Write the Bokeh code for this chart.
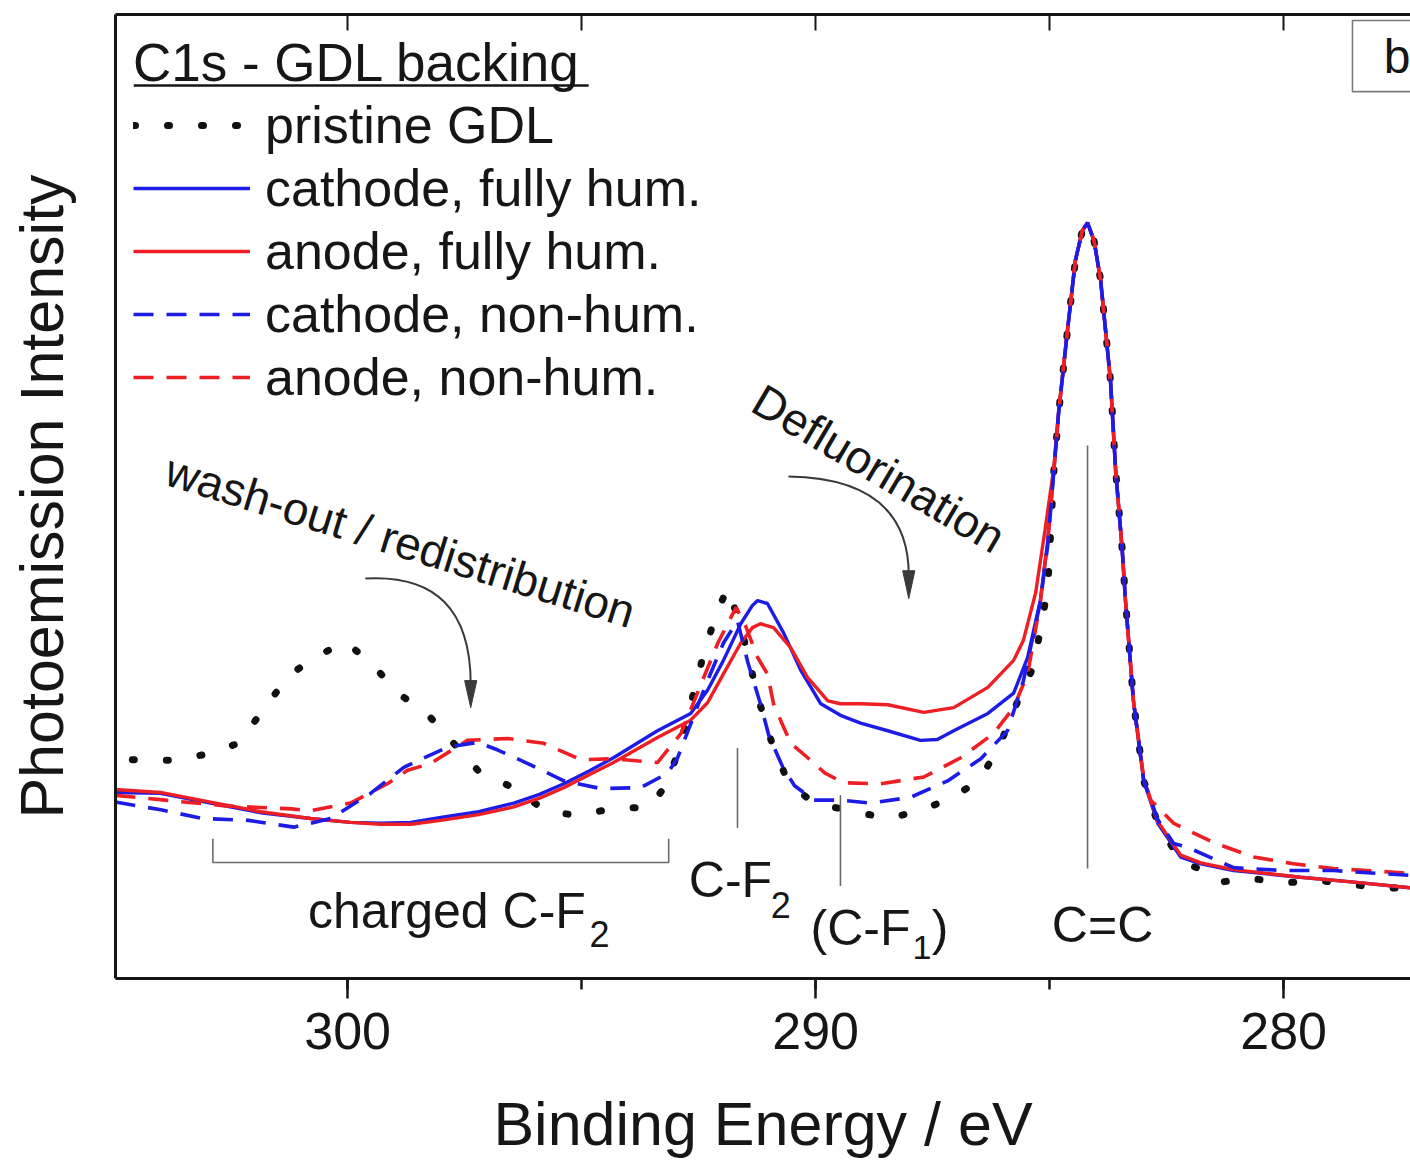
from bokeh.plotting import figure
from bokeh.models import (Range1d, LinearAxis, SingleIntervalTicker, FixedTicker,
                          Legend, LegendItem, Label)
from bokeh.embed import file_html
from bokeh.resources import INLINE

FONT = "Liberation Sans"
BLUE = "#1c1ce6"
RED = "#ee1f24"
INK = "#161616"

# ---- C1s spectra of the GDL backing: binding energy (eV) / intensity (arb. units) ----
pristine_be = [304.6, 304.0, 303.63, 302.99, 302.33, 301.77, 301.26, 300.68, 300.04, 299.47,
               298.95, 298.29, 297.20, 296.47, 295.77, 295.09, 294.27, 293.57, 293.2, 292.9,
               292.61, 292.39, 292.12, 291.88, 291.6, 291.39, 291.18, 290.92, 290.58, 290.04,
               289.25, 288.46, 287.76, 287.07, 286.52, 286.09, 285.77, 285.36, 285.19, 285.04,
               284.91, 284.81, 284.62, 284.45, 284.3, 284.19, 284.05, 283.91, 283.70, 283.59,
               283.45, 283.38, 283.21, 282.99, 282.69, 282.2, 281.77, 281.35, 280.71, 280.0,
               279.32, 278.6, 277.97, 277.29]
pristine_int = [22.7, 22.6, 22.7, 23.3, 24.4, 28.1, 31.4, 33.4, 34.9, 32.6,
                29.7, 27.4, 21.5, 19.8, 17.4, 16.9, 17.7, 17.7, 20.0, 24.0,
                29.6, 33.7, 37.9, 40.5, 36.6, 32.3, 28.3, 24.2, 20.3, 18.2,
                17.4, 16.6, 17.4, 18.8, 20.5, 23.9, 27.8, 32.2, 36.3, 40.6,
                52.7, 58.6, 67.2, 74.5, 77.6, 78.4, 76.5, 72.4, 62.0, 52.7,
                44.5, 39.2, 28.8, 20.5, 16.1, 12.2, 11.3, 10.0, 10.4, 9.9,
                10.2, 9.8, 9.4, 9.4]

cath_hum_be = [304.96, 304.0, 302.93, 301.86, 300.79, 299.94, 299.3, 298.65, 298.01, 297.2,
               296.45, 295.9, 295.38, 294.85, 294.32, 293.85, 293.38, 292.67, 292.31, 291.97,
               291.60, 291.35, 291.24, 291.03, 290.68, 290.32, 289.89, 289.47, 289.04, 288.46,
               287.76, 287.4, 287.05, 286.32, 285.77, 285.47, 285.2, 285.04, 284.91, 284.81,
               284.62, 284.45, 284.3, 284.19, 284.05, 283.91, 283.70, 283.59, 283.45, 283.38,
               283.21, 282.99, 282.69, 282.2, 281.77, 281.07, 279.64, 278.5, 277.29]
cath_hum_int = [19.3, 19.2, 18.2, 17.2, 16.6, 16.2, 16.1, 16.2, 16.7, 17.3,
                18.2, 19.1, 20.2, 21.5, 22.9, 24.3, 25.7, 27.5, 29.9, 33.0,
                36.8, 38.7, 39.2, 38.9, 35.8, 32.0, 28.5, 27.3, 26.5, 25.7,
                24.7, 24.8, 25.7, 27.5, 29.6, 33.3, 39.2, 45.4, 52.7, 58.6,
                67.2, 74.5, 77.6, 78.4, 76.5, 72.4, 62.0, 52.7, 44.5, 39.2,
                28.8, 20.5, 16.1, 12.6, 11.9, 11.2, 10.5, 10.0, 9.4]

anode_hum_be = [304.96, 304.0, 302.93, 301.86, 300.79, 299.94, 299.3, 298.65, 298.01, 297.2,
                296.45, 295.9, 295.38, 294.85, 294.32, 293.85, 293.38, 292.67, 292.31, 291.97,
                291.60, 291.35, 291.18, 290.90, 290.53, 290.17, 289.74, 289.47, 289.04, 288.46,
                287.69, 287.05, 286.32, 285.77, 285.56, 285.3, 285.1, 284.91, 284.81, 284.62,
                284.45, 284.3, 284.19, 284.05, 283.91, 283.70, 283.59, 283.45, 283.38, 283.21,
                282.99, 282.69, 282.2, 281.77, 281.07, 279.64, 278.5, 277.29]
anode_hum_int = [19.6, 19.3, 18.3, 17.3, 16.6, 16.2, 16.0, 16.0, 16.4, 17.0,
                 17.8, 18.7, 19.8, 21.1, 22.4, 23.7, 25.0, 26.8, 28.6, 31.6,
                 34.8, 36.4, 36.8, 36.4, 34.3, 31.2, 28.8, 28.5, 28.5, 28.4,
                 27.6, 28.1, 30.2, 33.0, 35.1, 40.0, 46.5, 53.0, 58.8, 67.2,
                 74.5, 77.6, 78.4, 76.5, 72.4, 62.0, 52.7, 44.5, 39.2, 28.8,
                 20.6, 16.3, 12.8, 12.0, 11.3, 10.5, 10.0, 9.4]

cath_dry_be = [304.96, 303.99, 303.1, 302.12, 301.15, 300.36, 299.51, 298.80, 298.50, 297.86,
               297.22, 296.79, 296.15, 295.38, 294.59, 293.74, 293.16, 292.95, 292.31, 291.97,
               291.67, 291.45, 291.18, 291.0, 290.7, 290.45, 290.04, 289.47, 288.82, 287.97,
               287.18, 286.47, 285.90, 285.56, 285.2, 285.04, 284.91, 284.81, 284.62, 284.45,
               284.3, 284.19, 284.05, 283.91, 283.70, 283.59, 283.45, 283.38, 283.21, 282.99,
               282.69, 282.35, 282.05, 281.07, 280.0, 278.93, 277.97, 277.29]
cath_dry_int = [18.3, 17.5, 16.6, 16.4, 15.7, 16.6, 19.2, 21.9, 22.6, 24.0,
                24.5, 23.7, 22.3, 20.5, 19.7, 19.8, 21.3, 22.9, 30.9, 34.8,
                37.1, 32.8, 28.5, 25.2, 21.9, 20.0, 18.5, 18.5, 18.2, 18.8,
                20.5, 22.8, 25.7, 30.9, 39.0, 45.0, 52.7, 58.6, 67.2, 74.5,
                77.6, 78.4, 76.5, 72.4, 62.0, 52.7, 44.5, 39.2, 28.8, 20.5,
                16.5, 14.0, 13.6, 11.5, 11.2, 11.2, 10.9, 10.7]

anode_dry_be = [304.96, 303.9, 302.6, 301.2, 300.79, 299.94, 299.15, 298.72, 298.23, 297.44,
                296.58, 295.81, 295.02, 294.32, 293.38, 292.88, 292.09, 291.7, 291.5, 291.24,
                291.03, 290.9, 290.75, 290.53, 290.17, 289.8, 289.4, 288.61, 287.69, 286.90,
                286.20, 285.77, 285.47, 285.2, 285.04, 284.91, 284.81, 284.62, 284.45, 284.3,
                284.19, 284.05, 283.91, 283.70, 283.59, 283.45, 283.38, 283.21, 282.99, 282.84,
                282.35, 281.50, 280.64, 279.79, 278.93, 278.21, 277.29]
anode_dry_int = [19.0, 18.5, 17.9, 17.6, 17.4, 18.2, 20.2, 21.6, 22.3, 24.7,
                 24.9, 24.4, 22.7, 22.8, 22.4, 25.4, 34.8, 38.5, 36.6, 33.3,
                 31.6, 28.5, 26.8, 24.4, 22.9, 21.3, 20.3, 20.2, 20.9, 22.9,
                 25.4, 28.1, 31.6, 39.0, 45.5, 52.7, 58.6, 67.2, 74.5, 77.6,
                 78.4, 76.5, 72.4, 62.0, 52.7, 44.5, 39.2, 28.8, 20.8, 18.5,
                 16.1, 14.1, 12.6, 11.9, 11.4, 11.2, 10.9]

legend_labels = ["pristine GDL", "cathode, fully hum.", "anode, fully hum.",
                 "cathode, non-hum.", "anode, non-hum."]
x_ticks_step = 10
top_tick_positions = [305, 300, 295, 290, 285, 280]

# ---- figure ----
p = figure(width=1410, height=1162, output_backend="svg", toolbar_location=None,
           x_range=Range1d(304.96, 277.29), y_range=Range1d(0, 100),
           min_border_left=115, min_border_right=0, min_border_top=14, min_border_bottom=184)
p.outline_line_color = None
p.xgrid.visible = False
p.ygrid.visible = False
p.background_fill_color = "white"
p.border_fill_color = "white"

xa = p.below[0]
xa.ticker = SingleIntervalTicker(interval=x_ticks_step, num_minor_ticks=2)
xa.axis_line_width = 3
xa.axis_line_color = INK
xa.major_tick_out = 20
xa.major_tick_in = 0
xa.minor_tick_out = 11
xa.minor_tick_in = 0
xa.major_tick_line_width = 2.5
xa.minor_tick_line_width = 2.5
xa.major_tick_line_color = INK
xa.minor_tick_line_color = INK
xa.major_label_text_font = FONT
xa.major_label_text_font_size = "52px"
xa.major_label_text_color = INK
xa.major_label_standoff = 14
xa.axis_label = "Binding Energy / eV"
xa.axis_label_text_font = FONT
xa.axis_label_text_font_size = "61px"
xa.axis_label_text_font_style = "normal"
xa.axis_label_text_color = INK
xa.axis_label_standoff = 38

ya = p.left[0]
ya.ticker = FixedTicker(ticks=[])
ya.axis_line_width = 3
ya.axis_line_color = INK
ya.major_tick_out = 0
ya.minor_tick_out = 0
ya.axis_label = "Photoemission Intensity"
ya.axis_label_text_font = FONT
ya.axis_label_text_font_size = "61px"
ya.axis_label_text_font_style = "normal"
ya.axis_label_text_color = INK
ya.axis_label_standoff = 40

# frame top edge with short inward ticks, no labels
top = LinearAxis(ticker=FixedTicker(ticks=[], minor_ticks=top_tick_positions))
top.axis_line_width = 3
top.axis_line_color = INK
top.minor_tick_in = 16
top.minor_tick_out = 0
top.minor_tick_line_width = 2
top.minor_tick_line_color = INK
top.major_label_standoff = 0
p.add_layout(top, "above")

# ---- spectra ----
r_pr = p.line(pristine_be, pristine_int, line_color="#111111", line_width=7,
              line_dash="2 32", line_cap="round")
r_ch = p.line(cath_hum_be, cath_hum_int, line_color=BLUE, line_width=3.4)
r_ah = p.line(anode_hum_be, anode_hum_int, line_color=RED, line_width=3.4)
r_ad = p.line(anode_dry_be, anode_dry_int, line_color=RED, line_width=3.6, line_dash="20 13")
r_cd = p.line(cath_dry_be, cath_dry_int, line_color=BLUE, line_width=3.6, line_dash="20 13")

# ---- peak markers and bracket ----
GREY = "#6a6a6a"
p.segment(x0=[291.67, 289.47, 284.19], y0=[15.6, 9.6, 11.4],
          x1=[291.67, 289.47, 284.19], y1=[23.9, 19.0, 55.3],
          line_color=GREY, line_width=1.6)
p.line([302.88, 302.88, 293.14, 293.14], [14.5, 12.03, 12.03, 14.5],
       line_color=GREY, line_width=1.6)


def txt(x, y, s, size="50px", align="left", angle=0.0):
    p.add_layout(Label(x=x, y=y, text=s, text_font=FONT, text_font_size=size,
                       text_color=INK, text_align=align, text_baseline="middle",
                       angle=angle))


txt(294.91, 7.05, "charged C-F", align="right")
txt(294.83, 4.6, "2", size="36px")
txt(292.71, 10.17, "C-F")
txt(290.96, 7.6, "2", size="36px")
txt(290.11, 5.19, "(C-F")
txt(287.93, 3.2, "1", size="34px")
txt(287.52, 5.19, ")")
txt(283.87, 5.5, "C=C", align="center")
txt(298.87, 45.4, "wash-out / redistribution", size="46px", align="center", angle=-0.30)
txt(288.65, 52.9, "Defluorination", size="46px", align="center", angle=-0.535)

# ---- curved arrows ----
ARROW = "#3a3a3a"
p.quadratic(x0=[299.62, 290.58], y0=[41.49, 52.07],
            x1=[297.37, 288.01], y1=[30.5, 41.8],
            cx=[297.37, 288.01], cy=[42.12, 51.87],
            line_color=ARROW, line_width=2)
p.patches(xs=[[297.50, 297.37, 297.24], [288.14, 288.01, 287.88]],
          ys=[[30.9, 28.1, 30.9], [42.3, 39.4, 42.3]],
          fill_color=ARROW, line_color=ARROW, line_width=1)

# ---- panel tag ----
p.quad(left=[278.53], right=[276.0], top=[99.38], bottom=[92.0],
       fill_color="white", line_color="#7a7a7a", line_width=1.6)
txt(277.86, 95.64, "b", size="48px")

# ---- legend ----
legend = Legend(items=[LegendItem(label=l, renderers=[r]) for l, r in
                       zip(legend_labels, [r_pr, r_ch, r_ah, r_cd, r_ad])],
                location="top_left", title="C1s - GDL backing")
legend.title_text_font = FONT
legend.title_text_font_size = "53px"
legend.title_text_font_style = "normal"
legend.title_text_color = INK
legend.title_standoff = 2
legend.label_text_font = FONT
legend.label_text_font_size = "52px"
legend.label_text_color = INK
legend.label_standoff = 15
legend.glyph_width = 117
legend.glyph_height = 50
legend.label_height = 50
legend.spacing = 3
legend.padding = 0
legend.margin = 18
legend.border_line_color = None
legend.background_fill_alpha = 0
p.add_layout(legend)

# underline of the legend heading
p.segment(x0=[304.57], y0=[92.63], x1=[294.85], y1=[92.63], line_color=INK, line_width=2.5)

open("out.html", "w").write(file_html(p, INLINE))
